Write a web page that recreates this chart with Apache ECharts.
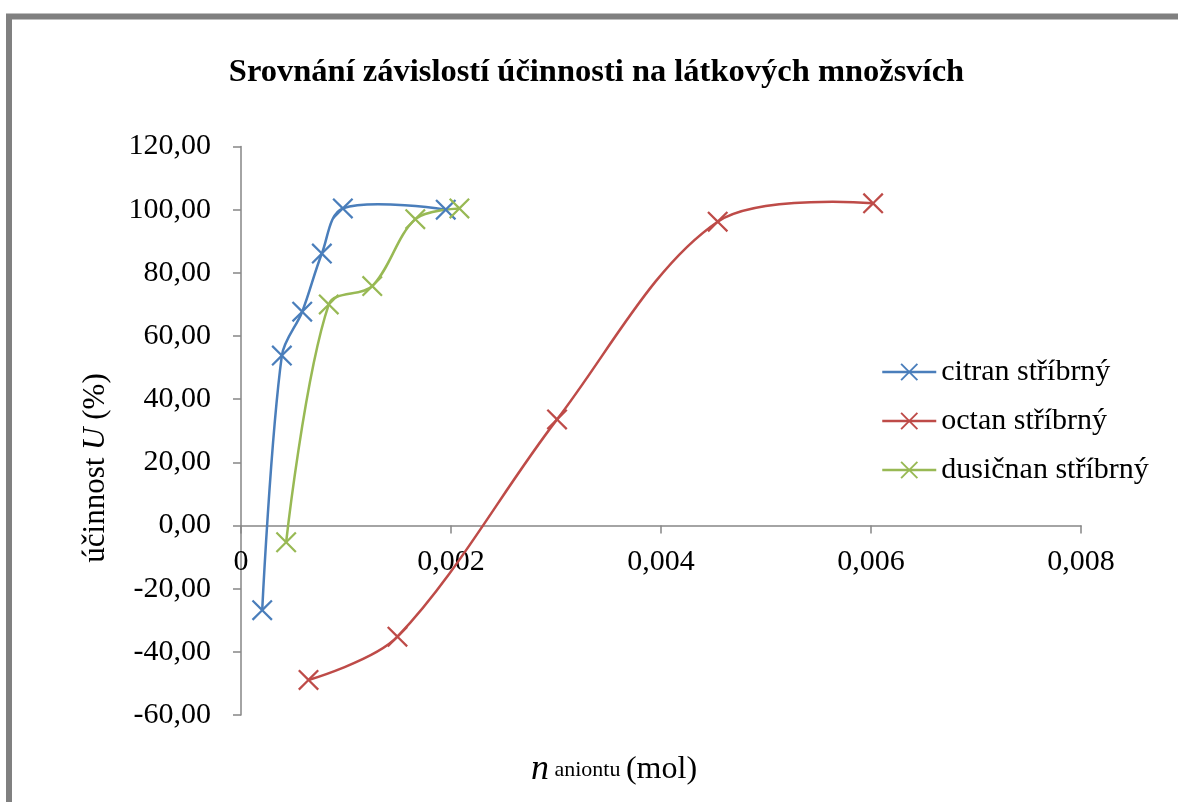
<!DOCTYPE html>
<html>
<head>
<meta charset="utf-8">
<script src="https://cdn.jsdelivr.net/npm/echarts@6/dist/echarts.min.js"></script>
<style>
  html, body { margin: 0; padding: 0; background: #ffffff; }
  #chart { width: 1178px; height: 802px; }
</style>
</head>
<body>
<div id="chart"></div>
<script>
// n aniontu (mol) and účinnost U (%) for each silver salt
const citranX = [0.000202, 0.000389, 0.000583, 0.000770, 0.000970, 0.001950];
const citranY = [-26.8, 53.8, 67.7, 86.1, 100.4, 100.0];

const octanX = [0.000643, 0.001490, 0.003010, 0.004540, 0.006020];
const octanY = [-48.9, -35.2, 33.6, 96.2, 102.0];

const dusicnanX = [0.000430, 0.000836, 0.001250, 0.001660, 0.002080];
const dusicnanY = [-5.3, 70.0, 75.8, 97.0, 100.4];

const seriesNames = ['citran stříbrný', 'octan stříbrný', 'dusičnan stříbrný'];
const seriesColors = ['#4A7EBB', '#BE4B48', '#98B954'];

const titleText = 'Srovnání závislostí účinnosti na látkových množsvích';

const xMin = 0, xMax = 0.008, xStep = 0.002;
const yMin = -60, yMax = 120, yStep = 20;

const serif = "'Liberation Serif', 'Times New Roman', serif";

// X-shaped marker drawn as a filled outline
const crossSymbol = 'path://M0,1.5 L1.5,0 L10,8.5 L18.5,0 L20,1.5 L11.5,10 L20,18.5 L18.5,20 L10,11.5 L1.5,20 L0,18.5 L8.5,10 Z';

const allX = [citranX, octanX, dusicnanX];
const allY = [citranY, octanY, dusicnanY];

function pairs(xs, ys) {
  return xs.map((x, i) => [x, ys[i]]);
}

const seriesData = allX.map((xs, k) => pairs(xs, allY[k]));

// Smoothed connecting curve: one cubic segment per pair of neighbouring points.
// The tangent at each point follows its neighbours and is shared between the two
// adjoining segments in proportion to their lengths (no clamping, so the curve may
// rise slightly past a point, as a spline does).
function curveSeries(k) {
  const xs = allX[k], ys = allY[k];
  const n = xs.length;
  const smooth = 1 / 3;
  return {
    name: seriesNames[k],
    type: 'custom',
    coordinateSystem: 'cartesian2d',
    data: seriesData[k],
    encode: { x: 0, y: 1 },
    silent: true,
    z: 1,
    renderItem: (params, api) => {
      const i = params.dataIndex;
      if (i >= n - 1) return null;
      const at = j => api.coord([xs[j], ys[j]]);
      const dist = (a, b) => Math.hypot(b[0] - a[0], b[1] - a[1]);
      const p1 = at(i), p2 = at(i + 1);
      let c1 = p1, c2 = p2;
      if (i > 0) {
        const p0 = at(i - 1);
        const r = dist(p1, p2) / (dist(p0, p1) + dist(p1, p2));
        c1 = [p1[0] + (p2[0] - p0[0]) * smooth * r, p1[1] + (p2[1] - p0[1]) * smooth * r];
      }
      if (i + 2 < n) {
        const p3 = at(i + 2);
        const r = dist(p2, p3) / (dist(p1, p2) + dist(p2, p3));
        c2 = [p2[0] - (p3[0] - p1[0]) * smooth * (1 - r), p2[1] - (p3[1] - p1[1]) * smooth * (1 - r)];
      }
      return {
        type: 'bezierCurve',
        shape: {
          x1: p1[0], y1: p1[1],
          x2: p2[0], y2: p2[1],
          cpx1: c1[0], cpy1: c1[1],
          cpx2: c2[0], cpy2: c2[1]
        },
        style: { fill: 'none', stroke: seriesColors[k], lineWidth: 2.5 }
      };
    }
  };
}

// Markers for the measured points (also provide the legend entries)
function markerSeries(k) {
  return {
    name: seriesNames[k],
    type: 'line',
    data: seriesData[k],
    symbol: crossSymbol,
    symbolSize: 21,
    showAllSymbol: true,
    color: seriesColors[k],
    lineStyle: { color: seriesColors[k], width: 0 },
    itemStyle: { color: seriesColors[k], borderWidth: 0 },
    z: 3
  };
}

const chart = echarts.init(document.getElementById('chart'), null, { renderer: 'canvas' });

const option = {
  backgroundColor: '#ffffff',
  animation: false,
  title: {
    text: titleText,
    left: 591.5,
    top: 51,
    textAlign: 'center',
    textStyle: { fontFamily: serif, fontWeight: 'bold', fontSize: 32.5, color: '#000000' }
  },
  grid: { left: 241, right: 97, top: 146.5, bottom: 87, containLabel: false },
  legend: {
    orient: 'vertical',
    left: 876,
    top: 352,
    itemWidth: 54,
    itemHeight: 22,
    itemGap: 19,
    textStyle: { fontFamily: serif, fontSize: 30, color: '#000000', padding: [0, 0, 0, 0] },
    data: seriesNames.map((name, k) => ({
      name: name,
      lineStyle: { color: seriesColors[k], width: 2.5, opacity: 1 }
    }))
  },
  xAxis: {
    type: 'value',
    min: xMin,
    max: xMax,
    interval: xStep,
    splitLine: { show: false },
    axisLine: { onZero: true, lineStyle: { color: '#868686', width: 1.5 } },
    axisTick: { show: true, length: 8, inside: false, lineStyle: { color: '#868686', width: 1.5 } },
    axisLabel: {
      fontFamily: serif, fontSize: 30, color: '#000000', margin: -168,
      formatter: v => v === 0 ? '0' : v.toFixed(3).replace('.', ',')
    }
  },
  yAxis: {
    type: 'value',
    min: yMin,
    max: yMax,
    interval: yStep,
    splitLine: { show: false },
    axisLine: { show: true, onZero: false, lineStyle: { color: '#868686', width: 1.5 } },
    axisTick: { show: true, length: 8, inside: false, lineStyle: { color: '#868686', width: 1.5 } },
    axisLabel: {
      fontFamily: serif, fontSize: 30, color: '#000000', margin: 30,
      formatter: v => v.toFixed(2).replace('.', ',')
    }
  },
  graphic: [
    {
      type: 'rect',
      silent: true,
      shape: { x: 9, y: 16.5, width: 1300, height: 1000 },
      style: { fill: 'none', stroke: '#808080', lineWidth: 6 },
      z: 100
    },
    {
      type: 'text',
      x: 96,
      y: 468,
      rotation: Math.PI / 2,
      style: {
        text: '{r|účinnost }{i|U}{r| (%)}',
        align: 'center',
        verticalAlign: 'middle',
        rich: {
          r: { fontFamily: serif, fontSize: 31, fill: '#000000' },
          i: { fontFamily: serif, fontSize: 31, fontStyle: 'italic', fill: '#000000' }
        }
      }
    },
    {
      type: 'text',
      x: 614,
      y: 770,
      style: {
        text: '{i|n}{s| aniontu }{r|(mol)}',
        align: 'center',
        verticalAlign: 'middle',
        rich: {
          i: { fontFamily: serif, fontSize: 36, fontStyle: 'italic', fill: '#000000' },
          s: { fontFamily: serif, fontSize: 22, fill: '#000000' },
          r: { fontFamily: serif, fontSize: 32, fill: '#000000' }
        }
      }
    }
  ],
  series: [0, 1, 2].map(markerSeries).concat([0, 1, 2].map(curveSeries))
};

chart.setOption(option);
</script>
</body>
</html>
